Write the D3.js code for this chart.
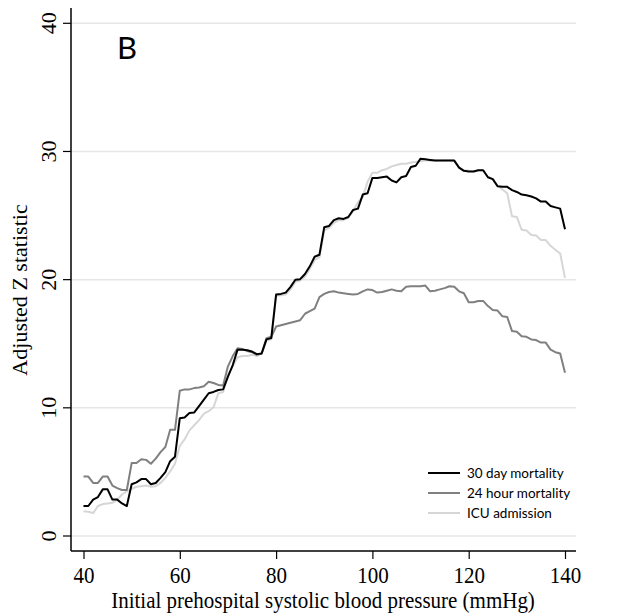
<!DOCTYPE html>
<html>
<head>
<meta charset="utf-8">
<script src="https://cdn.jsdelivr.net/npm/d3@7"></script>
<style>
  body { margin: 0; background: #fff; }
  svg { display: block; }
</style>
</head>
<body>
<div id="chart"></div>
<script>
// initial prehospital SBP, 40..140 mmHg
const sbp = d3.range(40, 141);

const mort30 = [
  2.3, 2.3, 2.8, 3.0, 3.6, 3.6, 2.8, 2.8, 2.5, 2.3,
  4.0, 4.15, 4.4, 4.4, 4.0, 4.1, 4.5, 4.95, 5.8, 6.15,
  9.15, 9.2, 9.55, 9.6, 10.1, 10.6, 11.1, 11.2, 11.35, 11.4,
  12.4, 13.3, 14.5, 14.5, 14.45, 14.35, 14.15, 14.2, 15.3, 15.4,
  18.8, 18.85, 18.95, 19.4, 19.95, 20.0, 20.4, 21.0, 21.75, 21.9,
  24.05, 24.15, 24.6, 24.75, 24.7, 24.85, 25.4, 25.5, 26.6, 26.7,
  27.9, 27.9, 27.95, 28.0, 27.7, 27.55, 27.95, 28.05, 28.75, 28.85,
  29.4, 29.35, 29.3, 29.25, 29.25, 29.25, 29.25, 29.25, 28.7, 28.45,
  28.4, 28.4, 28.5, 28.5, 27.95, 27.8, 27.25, 27.2, 27.2, 26.95,
  26.8, 26.6, 26.55, 26.45, 26.3, 26.05, 26.05, 25.7, 25.6, 25.5,
  23.9
];

const mort24 = [
  4.6, 4.6, 4.1, 4.1, 4.6, 4.6, 3.9, 3.7, 3.55, 3.55,
  5.65, 5.65, 5.95, 5.9, 5.6, 6.0, 6.5, 6.9, 8.25, 8.25,
  11.3, 11.4, 11.4, 11.5, 11.55, 11.65, 12.0, 11.9, 11.75, 11.7,
  13.2, 14.0, 14.6, 14.55, 14.4, 14.3, 14.1, 14.2, 15.4, 15.5,
  16.3, 16.4, 16.5, 16.6, 16.7, 16.8, 17.3, 17.5, 17.7, 18.6,
  18.85, 19.0, 19.05, 18.95, 18.9, 18.85, 18.8, 18.85, 19.05, 19.2,
  19.15, 18.95, 19.0, 19.1, 19.2, 19.1, 19.05, 19.4, 19.45, 19.45,
  19.45, 19.5, 19.05, 19.1, 19.2, 19.3, 19.45, 19.4, 19.05, 18.9,
  18.2, 18.2, 18.3, 18.3, 17.9, 17.6, 17.55, 17.1, 17.05, 15.95,
  15.9, 15.55, 15.5, 15.3, 15.25, 15.05, 15.05, 14.5, 14.3, 14.2,
  12.7
];

const icu = [
  1.9, 1.85, 1.75, 2.3, 2.45, 2.5, 2.55, 2.8, 3.2, 3.45,
  3.65, 3.8, 3.85, 3.9, 3.8, 3.85, 4.1, 4.5, 5.0, 5.6,
  7.0, 7.5, 8.2, 8.6, 9.0, 9.5, 9.7, 10.0, 11.1, 11.2,
  12.5, 13.2, 13.9, 14.0, 14.0, 14.1, 14.0, 14.2, 15.2, 15.3,
  18.7, 18.75, 18.8, 19.2, 19.8, 19.9, 20.2, 20.8, 21.5, 21.7,
  23.8, 24.0, 24.4, 24.6, 24.6, 24.8, 25.3, 26.0, 26.4, 27.6,
  28.3, 28.3, 28.5, 28.6, 28.8, 28.9, 29.0, 29.0, 29.1, 29.15,
  29.2, 29.25, 29.25, 29.25, 29.25, 29.25, 29.25, 29.25, 28.7, 28.5,
  28.45, 28.4, 28.5, 28.5, 27.95, 27.8, 27.3, 27.0, 26.7, 24.9,
  24.85, 23.85, 23.8, 23.45, 23.4, 23.05, 23.05, 22.6, 22.3, 22.0,
  20.1
];

const xTicks = [40, 60, 80, 100, 120, 140];
const yTicks = [0, 10, 20, 30, 40];
const seriesNames = ["30 day mortality", "24 hour mortality", "ICU admission"];
const seriesColors = ["#000000", "#808080", "#d6d6d6"];

const W = 618, H = 614;
const serif = "'Liberation Serif', 'Times New Roman', serif";
const sans = "Lato, 'Open Sans', sans-serif";
const stretch = 1.05;   // text in the picture is a bit taller than wide

const svg = d3.select("#chart").append("svg")
    .attr("width", W)
    .attr("height", H);

const x = d3.scaleLinear().domain([40, 140]).range([83.5, 565]);
const y = d3.scaleLinear().domain([0, 40]).range([535.5, 22.8]);

const axisX = 71, axisY = 551, rightEdge = 576;

// gridlines
svg.append("g")
    .attr("transform", `translate(${axisX},0)`)
    .call(d3.axisLeft(y).tickValues(yTicks).tickSize(-(rightEdge - axisX)).tickFormat(""))
    .call(g => g.select(".domain").remove())
    .call(g => g.selectAll("line").attr("stroke", "#e6e6e6").attr("stroke-width", 1.5));

// series lines (light one underneath)
const line = d3.line()
    .x((d, i) => x(sbp[i]))
    .y(d => y(d));

const series = [mort30, mort24, icu];
[2, 1, 0].forEach(k => {
    svg.append("path")
        .datum(series[k])
        .attr("fill", "none")
        .attr("stroke", seriesColors[k])
        .attr("stroke-width", 2)
        .attr("stroke-linejoin", "round")
        .attr("d", line);
});

// y axis
const gy = svg.append("g")
    .attr("transform", `translate(${axisX},0)`)
    .call(d3.axisLeft(y).tickValues(yTicks).tickSize(8).tickPadding(0));
gy.select(".domain").remove();
gy.selectAll("line").attr("stroke", "#000").attr("stroke-width", 1.2);
gy.selectAll("text")
    .attr("x", null).attr("dy", null)
    .attr("transform", `translate(-15,0) scale(1,${stretch}) rotate(-90)`)
    .attr("text-anchor", "middle")
    .style("font-family", serif)
    .style("font-size", "21px")
    .attr("fill", "#000");
gy.append("line")
    .attr("x1", 0).attr("x2", 0)
    .attr("y1", 8).attr("y2", axisY)
    .attr("stroke", "#000").attr("stroke-width", 1.5);

// x axis
const gx = svg.append("g")
    .attr("transform", `translate(0,${axisY})`)
    .call(d3.axisBottom(x).tickValues(xTicks).tickSize(8).tickPadding(0));
gx.select(".domain").remove();
gx.selectAll("line").attr("stroke", "#000").attr("stroke-width", 1.2);
gx.selectAll("text")
    .attr("y", null).attr("dy", null)
    .attr("transform", `translate(0,32) scale(1,${stretch})`)
    .attr("text-anchor", "middle")
    .style("font-family", serif)
    .style("font-size", "21px")
    .attr("fill", "#000");
gx.append("line")
    .attr("x1", axisX).attr("x2", rightEdge)
    .attr("y1", 0).attr("y2", 0)
    .attr("stroke", "#000").attr("stroke-width", 1.5);

// axis titles
svg.append("text")
    .attr("transform", `translate(323,608) scale(1,${stretch})`)
    .attr("text-anchor", "middle")
    .style("font-family", serif)
    .style("font-size", "21px")
    .text("Initial prehospital systolic blood pressure (mmHg)");

svg.append("text")
    .attr("transform", `translate(27,290) scale(1,${stretch}) rotate(-90)`)
    .attr("text-anchor", "middle")
    .style("font-family", serif)
    .style("font-size", "21px")
    .text("Adjusted Z statistic");

// panel letter
svg.append("text")
    .attr("x", 117).attr("y", 59)
    .style("font-family", sans)
    .style("font-size", "31px")
    .text("B");

// legend
const legend = svg.append("g");
seriesNames.forEach((name, i) => {
    const ly = 473 + i * 20;
    legend.append("line")
        .attr("x1", 428).attr("x2", 460)
        .attr("y1", ly).attr("y2", ly)
        .attr("stroke", seriesColors[i])
        .attr("stroke-width", 2);
    legend.append("text")
        .attr("transform", `translate(467,${ly + 5}) scale(1,${stretch})`)
        .style("font-family", sans)
        .style("font-size", "13.5px")
        .text(name);
});
</script>
</body>
</html>
